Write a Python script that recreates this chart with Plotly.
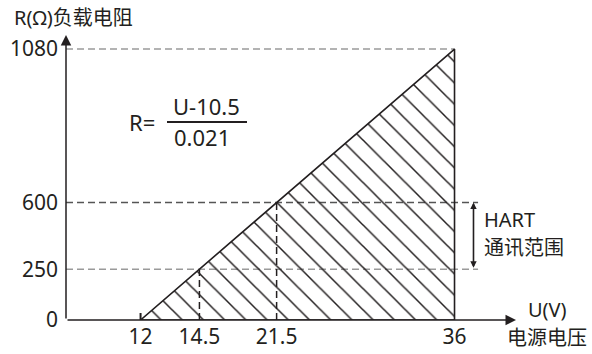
import plotly.graph_objects as go

# corners of the load line as labelled on the diagram
u_labels = ['12', '14.5', '21.5', '36']
r_labels = ['0', '250', '600', '1080']
# the diagram is not to scale: where each labelled value sits on its axis
u_drawn = [12, 16.5, 22.4, 36]
r_drawn = [0, 202.5, 468, 1080]

INK = '#231f20'
GREY = '#9a9a9a'
FONT = 'Noto Sans, Noto Sans CJK SC'

x_lo, x_hi = 6.3, 40.7
y_lo, y_hi = 0, 1140
x_guide_end = 37.8   # where the 250 / 600 guides stop, past the 36 V edge
x_bracket = 37.45    # HART range bracket


def paper(px, py):
    # pixel position in the 592x354 picture -> paper coords
    return (px - 66) / 450, (320 - py) / 286


fig = go.Figure()

# guide lines to the labelled values
guides = [
    (r_drawn[3], u_drawn[3], GREY),
    (r_drawn[2], x_guide_end, '#555555'),
    (r_drawn[1], x_guide_end, GREY),
]
for r, x_end, col in guides:
    fig.add_trace(go.Scatter(
        x=[x_lo, x_end], y=[r, r], mode='lines',
        line=dict(color=col, width=1.5, dash='7px,4px'), hoverinfo='skip',
    ))
for i in (1, 2):
    fig.add_trace(go.Scatter(
        x=[u_drawn[i], u_drawn[i]], y=[r_drawn[0], r_drawn[i]], mode='lines',
        line=dict(color=INK, width=1.5, dash='7px,4px'), hoverinfo='skip',
    ))

# working area (hatched triangle)
fig.add_trace(go.Scatter(
    x=[u_drawn[0], u_drawn[3], u_drawn[3], u_drawn[0]],
    y=[r_drawn[0], r_drawn[3], r_drawn[0], r_drawn[0]],
    mode='lines', fill='toself', fillcolor='rgba(0,0,0,0)',
    fillpattern=dict(shape='\\', fgcolor=INK, size=15, solidity=0.1),
    line=dict(color=INK, width=1.6), hoverinfo='skip',
))

# small start tick at 12 V
fig.add_trace(go.Scatter(
    x=[u_drawn[0]], y=[r_drawn[0]], mode='markers',
    marker=dict(symbol='line-ns', size=10, line=dict(color=INK, width=2)),
    hoverinfo='skip',
))

annotations = [
    # axis arrows
    dict(x=x_lo, y=1136, ax=x_lo, ay=y_lo, xref='x', yref='y', axref='x', ayref='y',
         text='', showarrow=True, arrowhead=2, arrowsize=1.4, arrowwidth=1.5,
         arrowcolor=INK),
    dict(x=x_hi, y=y_lo, ax=x_lo, ay=y_lo, xref='x', yref='y', axref='x', ayref='y',
         text='', showarrow=True, arrowhead=2, arrowsize=1.4, arrowwidth=1.5,
         arrowcolor=INK),
    # HART bracket
    dict(x=x_bracket, y=r_drawn[2], ax=x_bracket, ay=r_drawn[1],
         xref='x', yref='y', axref='x', ayref='y', text='', showarrow=True,
         arrowhead=2, arrowsize=0.8, arrowwidth=1.6, arrowside='end+start',
         arrowcolor=INK),
]

texts = [
    ('R(Ω)负载电阻', 12, 17, 'left', 20),
    ('HART', 482, 219, 'left', 20),
    ('通讯范围', 482, 247, 'left', 20),
    ('U(V)', 547, 309, 'center', 20),
    ('电源电压', 547, 337, 'center', 20),
    ('R=', 142, 122, 'center', 22),
    ('U-10.5', 206, 106, 'center', 22),
    ('0.021', 202, 137, 'center', 22),
]
for t, px, py, al, size in texts:
    xp, yp = paper(px, py)
    annotations.append(dict(
        x=xp, y=yp, xref='paper', yref='paper', text=t, showarrow=False,
        xanchor=al, yanchor='middle', align=al,
        font=dict(family=FONT, size=size, color=INK),
    ))

bx0, by = paper(167, 122)
bx1, _ = paper(247, 122)
fig.add_shape(type='line', xref='paper', yref='paper', x0=bx0, x1=bx1, y0=by, y1=by,
              line=dict(color=INK, width=1.8))

axis_common = dict(showgrid=False, zeroline=False, showline=False, ticks='',
                   automargin=False, tickfont=dict(family=FONT, size=21, color=INK))

fig.update_layout(
    template='none',
    width=592, height=354,
    margin=dict(l=66, r=76, t=34, b=34),
    paper_bgcolor='white', plot_bgcolor='white',
    showlegend=False,
    xaxis=dict(range=[x_lo, x_hi], tickvals=u_drawn, ticktext=u_labels,
               ticklabelstandoff=2, **axis_common),
    yaxis=dict(range=[y_lo, y_hi], tickvals=r_drawn, ticktext=r_labels,
               ticklabelstandoff=7, **axis_common),
    annotations=annotations,
)

# drop the browser's default body margin so the figure fills the window
fig.write_html('out.html', config=dict(displayModeBar=False),
               post_script="document.body.style.margin='0';")
